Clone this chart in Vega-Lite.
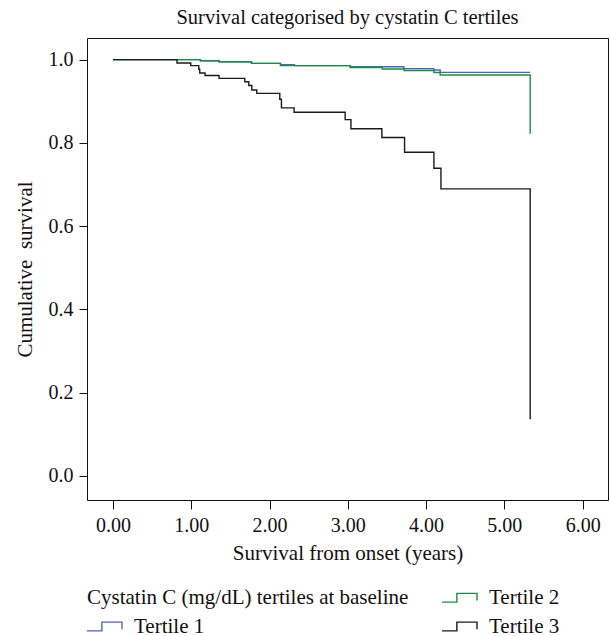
{
  "$schema": "https://vega.github.io/schema/vega-lite/v6.json",
  "autosize": "none",
  "width": 521,
  "height": 462,
  "padding": {"left": 87, "top": 38, "right": 2, "bottom": 136},
  "background": "white",
  "config": {
    "view": {"stroke": "#111", "strokeWidth": 1},
    "font": "Liberation Serif",
    "axis": {"grid": false, "domain": false, "tickColor": "#111", "labelColor": "#111", "titleColor": "#111", "labelFont": "Liberation Serif", "titleFont": "Liberation Serif", "titleFontWeight": "normal"}
  },
  "title": {"text": "Survival categorised by cystatin C tertiles", "fontSize": 20.5, "font": "Liberation Serif", "fontWeight": "normal", "color": "#111", "anchor": "middle", "offset": 10},
  "data": {"values": [
    {"g": "Tertile 1", "t": 0, "s": 1.0},
    {"g": "Tertile 1", "t": 1.117, "s": 0.9975},
    {"g": "Tertile 1", "t": 1.355, "s": 0.995},
    {"g": "Tertile 1", "t": 1.77, "s": 0.991},
    {"g": "Tertile 1", "t": 2.14, "s": 0.988},
    {"g": "Tertile 1", "t": 2.32, "s": 0.9856},
    {"g": "Tertile 1", "t": 3.03, "s": 0.983},
    {"g": "Tertile 1", "t": 3.716, "s": 0.978},
    {"g": "Tertile 1", "t": 4.10, "s": 0.975},
    {"g": "Tertile 1", "t": 4.18, "s": 0.9695},
    {"g": "Tertile 1", "t": 5.33, "s": 0.9695},
    {"g": "Tertile 2", "t": 0, "s": 1.0},
    {"g": "Tertile 2", "t": 1.117, "s": 0.9975},
    {"g": "Tertile 2", "t": 1.355, "s": 0.995},
    {"g": "Tertile 2", "t": 1.77, "s": 0.991},
    {"g": "Tertile 2", "t": 2.14, "s": 0.9856},
    {"g": "Tertile 2", "t": 3.03, "s": 0.981},
    {"g": "Tertile 2", "t": 3.44, "s": 0.9775},
    {"g": "Tertile 2", "t": 3.72, "s": 0.9736},
    {"g": "Tertile 2", "t": 4.10, "s": 0.969},
    {"g": "Tertile 2", "t": 4.18, "s": 0.963},
    {"g": "Tertile 2", "t": 5.33, "s": 0.822},
    {"g": "Tertile 3", "t": 0, "s": 1.0},
    {"g": "Tertile 3", "t": 0.818, "s": 0.992},
    {"g": "Tertile 3", "t": 0.993, "s": 0.9856},
    {"g": "Tertile 3", "t": 1.096, "s": 0.977},
    {"g": "Tertile 3", "t": 1.108, "s": 0.968},
    {"g": "Tertile 3", "t": 1.176, "s": 0.962},
    {"g": "Tertile 3", "t": 1.355, "s": 0.955},
    {"g": "Tertile 3", "t": 1.684, "s": 0.947},
    {"g": "Tertile 3", "t": 1.735, "s": 0.938},
    {"g": "Tertile 3", "t": 1.773, "s": 0.927},
    {"g": "Tertile 3", "t": 1.837, "s": 0.919},
    {"g": "Tertile 3", "t": 2.131, "s": 0.905},
    {"g": "Tertile 3", "t": 2.152, "s": 0.884},
    {"g": "Tertile 3", "t": 2.314, "s": 0.8735},
    {"g": "Tertile 3", "t": 2.966, "s": 0.856},
    {"g": "Tertile 3", "t": 3.04, "s": 0.834},
    {"g": "Tertile 3", "t": 3.435, "s": 0.813},
    {"g": "Tertile 3", "t": 3.725, "s": 0.7775},
    {"g": "Tertile 3", "t": 4.10, "s": 0.739},
    {"g": "Tertile 3", "t": 4.19, "s": 0.6895},
    {"g": "Tertile 3", "t": 5.33, "s": 0.136}
  ]},
  "mark": {"type": "line", "interpolate": "step-after", "strokeWidth": 1.4},
  "encoding": {
    "x": {"field": "t", "type": "quantitative",
      "scale": {"domain": [-0.332, 6.324], "nice": false, "zero": false},
      "axis": {"values": [0, 1, 2, 3, 4, 5, 6], "format": ".2f", "title": "Survival from onset (years)", "labelFontSize": 20, "titleFontSize": 21, "tickSize": 9, "labelPadding": 6, "titlePadding": 7}},
    "y": {"field": "s", "type": "quantitative",
      "scale": {"domain": [-0.058, 1.052], "nice": false, "zero": false},
      "axis": {"values": [0, 0.2, 0.4, 0.6, 0.8, 1.0], "format": ".1f", "title": "Cumulative\u00a0\u00a0survival", "labelFontSize": 20, "titleFontSize": 21, "tickSize": 8, "labelPadding": 6, "titlePadding": 13}},
    "color": {"field": "g", "type": "nominal",
      "scale": {"domain": ["Cystatin C (mg/dL) tertiles at baseline", "Tertile 2", "Tertile 1", "Tertile 3"], "range": ["#ffffff", "#1e8a46", "#4a67b5", "#1a1a1a"]},
      "legend": {"orient": "none", "legendX": 0, "legendY": 541, "title": null, "columns": 2, "direction": "horizontal", "padding": 0,
        "symbolType": "M-1,0.25 L-0.15,0.25 L-0.15,-0.25 L1,-0.25 L1,0.15",
        "symbolSize": 1225, "symbolStrokeWidth": 1.4, "symbolFillColor": "transparent",
        "labelFont": "Liberation Serif", "labelFontSize": 21, "labelColor": "#111", "labelLimit": 500,
        "columnPadding": 30, "rowPadding": -10,
        "encode": {
          "symbols": {"update": {"x": {"value": 17.5}, "opacity": {"signal": "datum.value === 'Cystatin C (mg/dL) tertiles at baseline' ? 0 : 1"}}},
          "labels": {"update": {"x": {"signal": "datum.value === 'Cystatin C (mg/dL) tertiles at baseline' ? 0 : 47"}}}
        }}}
  }
}
